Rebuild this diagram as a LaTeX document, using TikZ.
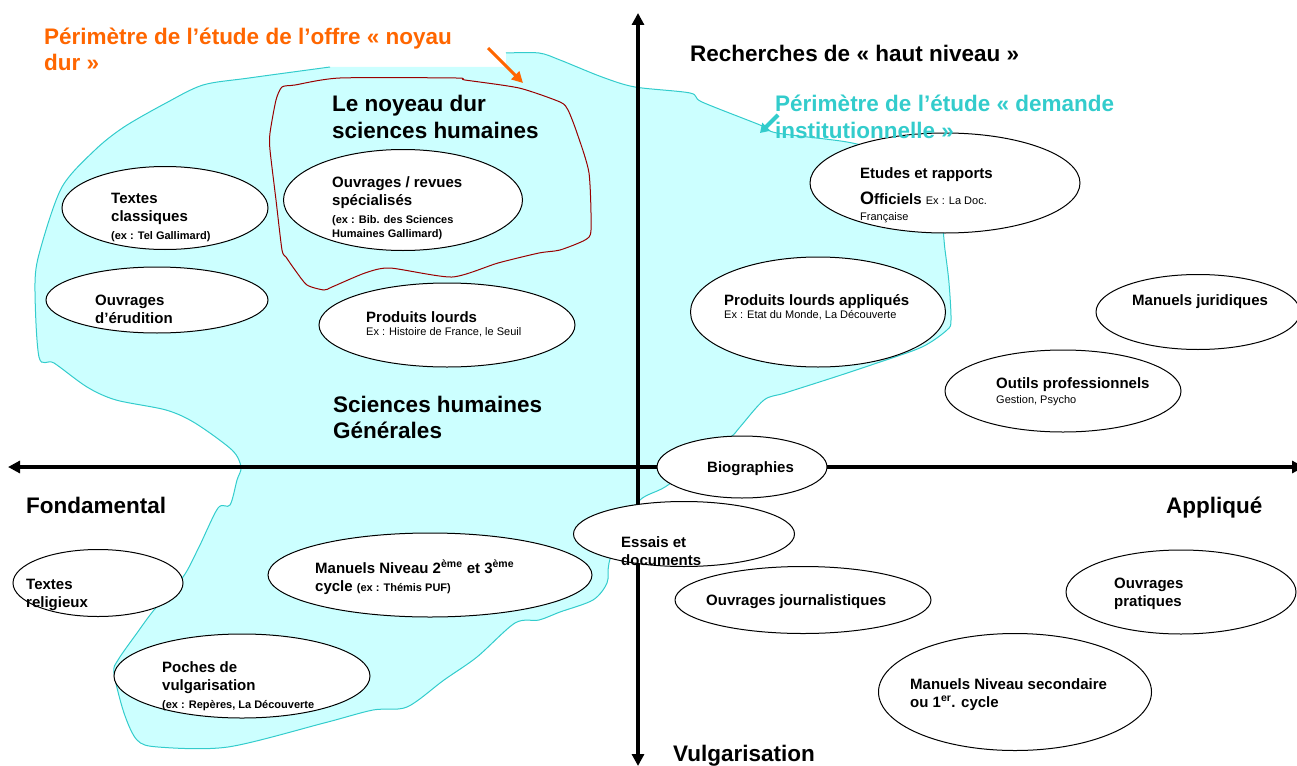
\documentclass[tikz,border=0pt]{standalone}
\usepackage{fontspec}
\setmainfont{Liberation Sans}
\usetikzlibrary{shapes.geometric,arrows.meta}
\definecolor{blobcyan}{HTML}{CCFFFF}
\definecolor{blobline}{HTML}{33CCCC}
\definecolor{offreorange}{HTML}{FF6600}
\definecolor{noyaured}{HTML}{990000}
\newcommand\titrefont{\fontsize{22.5}{26}\selectfont\bfseries}
\newcommand\ovalfont{\fontsize{15}{18}\selectfont\bfseries}
\newcommand\notefont{\fontsize{11}{13}\selectfont}
% contour of the "demande institutionnelle" zone (open at the top, under the orange title)
\newcommand\blobedge{plot[smooth,tension=0.5] coordinates {(506,53) (539,53) (560,60) (602,77) (635,87) (690,93) (702,102) (760,125) (777,133) (847,142) (880,152) (920,180) (940,215) (945,250) (949,283) (951,320) (947,330) (922,347) (877,363) (835,377) (785,393) (764,400) (740,427) (731,437) (700,462) (665,487) (640,500) (620,530) (609,563) (607,583) (593,600) (560,612) (539,620) (515,623) (477,657) (444,680) (407,707) (373,710) (324,723) (228,747) (158,747) (137,740) (124,713) (114,673) (118,660) (137,633) (154,610) (183,577) (199,547) (218,508) (230,505) (237,480) (241,467) (232,450) (195,423) (166,410) (116,400) (87,387) (54,363) (39,357) (35,283) (41,247) (62,187) (95,150) (124,127) (166,103) (203,85) (249,78) (330,67)}}
\begin{document}
\begin{tikzpicture}[x=1pt,y=-1pt]
  \tikzstyle{oval}=[ellipse,draw,fill=white,line width=1pt,inner sep=0]
  % multi-line texts are placed at the baseline of their last line
  \tikzstyle{titre}=[font=\titrefont,anchor=base west,align=left,inner sep=0]
  \tikzstyle{txt}=[font=\ovalfont,anchor=base west,align=left,inner sep=0]
  \tikzstyle{axe}=[line width=3.5pt,{Triangle[length=12pt,width=12pt]}-{Triangle[length=12pt,width=12pt]}]
  \useasboundingbox (0,0) rectangle (1297,765);

  % perimetres
  \fill[blobcyan] \blobedge -- (506,67) -- cycle;
  \draw[blobline,line width=1pt] \blobedge;
  \draw[noyaured,line width=1pt] plot[smooth cycle,tension=0.4] coordinates {(282,87) (295,85) (340,78) (456,78) (465,80) (519,88) (560,102) (568,110) (577,133) (589,173) (591,230) (585,240) (560,250) (539,253) (498,263) (452,277) (390,268) (365,273) (332,287) (324,290) (307,285) (295,270) (286,257) (282,250) (276,200) (270,150) (270,133) (276,100)};

  % axes
  \coordinate (ouest) at (8,467);
  \coordinate (est) at (1304,467);
  \coordinate (nord) at (638,13);
  \coordinate (sud) at (638,766);
  \draw[axe] (ouest) -- (est);
  \draw[axe] (nord) -- (sud);

  % ellipses
  \node[oval,minimum width=206pt,minimum height=83pt] (classiques) at (165,208) {};
  \node[oval,minimum width=239pt,minimum height=101pt] (revues) at (403,200) {};
  \node[oval,minimum width=222pt,minimum height=66pt] (erudition) at (157,300) {};
  \node[oval,minimum width=256pt,minimum height=84pt] (lourds) at (447,325) {};
  \node[oval,minimum width=270pt,minimum height=100pt] (rapports) at (945,183) {};
  \node[oval,minimum width=255pt,minimum height=110pt] (appliques) at (818,312) {};
  \node[oval,minimum width=204pt,minimum height=75pt] (juridiques) at (1198,312) {};
  \node[oval,minimum width=236pt,minimum height=82pt] (outils) at (1063,391) {};
  \node[oval,minimum width=170pt,minimum height=62pt] (bio) at (742,467) {};
  \node[oval,minimum width=221pt,minimum height=65pt] (essais) at (684,534) {};
  \node[oval,minimum width=256pt,minimum height=67pt] (journal) at (803,600) {};
  \node[oval,minimum width=230pt,minimum height=84pt] (pratiques) at (1181,592) {};
  \node[oval,minimum width=273pt,minimum height=117pt] (secondaire) at (1015,692) {};
  \node[oval,minimum width=324pt,minimum height=84pt] (cycles) at (430,575) {};
  \node[oval,minimum width=170pt,minimum height=67pt] (religieux) at (98,583) {};
  \node[oval,minimum width=256pt,minimum height=84pt] (poches) at (242,676) {};

  % textes des ellipses
  \node[txt] (t-classiques) at (111,239) {Textes\\classiques\\{\notefont (ex : Tel Gallimard)}};
  \node[txt] (t-revues) at (332,237) {Ouvrages / revues\\spécialisés\\{\notefont (ex : Bib. des Sciences}\\[-4pt]{\notefont Humaines Gallimard)}};
  \node[txt] (t-erudition) at (95,323) {Ouvrages\\d’érudition};
  \node[txt] (t-lourds) at (366,335) {Produits lourds\\[-5pt]{\notefont\mdseries Ex : Histoire de France, le Seuil}};
  \node[txt] (t-rapports) at (860,220) {Etudes et rapports\\[8pt]{\fontsize{18}{18}\selectfont O}fficiels {\notefont\mdseries Ex : La Doc.}\\[-2pt]{\notefont\mdseries Française}};
  \node[txt] (t-appliques) at (724,318) {Produits lourds appliqués\\[-5pt]{\notefont\mdseries Ex : Etat du Monde, La Découverte}};
  \node[txt] (t-juridiques) at (1132,305) {Manuels juridiques};
  \node[txt] (t-outils) at (996,403) {Outils professionnels\\[-3pt]{\notefont\mdseries Gestion, Psycho}};
  \node[txt] (t-bio) at (707,472) {Biographies};
  \node[txt] (t-essais) at (621,565) {Essais et\\documents};
  \node[txt] (t-journal) at (706,605) {Ouvrages journalistiques};
  \node[txt] (t-pratiques) at (1114,606) {Ouvrages\\pratiques};
  \node[txt] (t-secondaire) at (910,707) {Manuels Niveau secondaire\\ou 1\textsuperscript{er}. cycle};
  \node[txt] (t-cycles) at (315,591) {Manuels Niveau 2\textsuperscript{ème} et 3\textsuperscript{ème}\\cycle {\notefont (ex : Thémis PUF)}};
  \node[txt] (t-religieux) at (26,607) {Textes\\religieux};
  \node[txt] (t-poches) at (162,708) {Poches de\\vulgarisation\\{\notefont (ex : Repères, La Découverte}};

  % titres
  \node[titre,offreorange] (offre) at (44,71) {Périmètre de l’étude de l’offre « noyau\\dur »};
  \node[titre] (noyau) at (332,138) {Le noyeau dur\\sciences humaines};
  \node[titre] (haut) at (690,62) {Recherches de « haut niveau »};
  \node[titre,blobline] (demande) at (775,138) {Périmètre de l’étude « demande\\institutionnelle »};
  \node[titre] (generales) at (333,438) {Sciences humaines\\Générales};
  \node[titre] (fondamental) at (26,513) {Fondamental};
  \node[titre] (applique) at (1166,513) {Appliqué};
  \node[titre] (vulgarisation) at (673,761) {Vulgarisation};

  % fleches vers les perimetres
  \coordinate (offre-queue) at (488,48);
  \coordinate (offre-pointe) at (523,83);
  \draw[offreorange,line width=3pt,-{Triangle[length=11pt,width=11pt]}] (offre-queue) -- (offre-pointe);
  \coordinate (demande-queue) at (778,115);
  \coordinate (demande-pointe) at (760,133);
  \draw[blobline,line width=4pt,-{Triangle[length=9pt,width=11pt]}] (demande-queue) -- (demande-pointe);
\end{tikzpicture}
\end{document}
